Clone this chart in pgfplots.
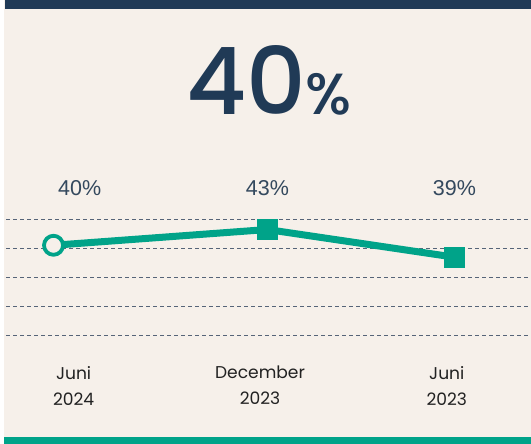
\documentclass[border=0pt]{standalone}
\usepackage{pgfplots}
\pgfplotsset{compat=1.18}
\usepackage{fontspec}
\setmainfont{Poppins}
\IfFontExistsTF{Poppins Medium}{\newfontfamily\bigfont{Poppins Medium}}{\newfontfamily\bigfont[FakeBold=1]{Poppins}}
\newfontfamily\labfont{Liberation Sans}
\newfontfamily\catfont{Poppins}
\definecolor{bgcream}{HTML}{F6F0EA}
\definecolor{navy}{HTML}{203A56}
\definecolor{tealg}{HTML}{00A389}
\definecolor{labc}{HTML}{34495E}
\definecolor{catc}{HTML}{222222}
\definecolor{gridc}{HTML}{566478}
\begin{document}
\begin{tikzpicture}[x=1bp,y=1bp]
\useasboundingbox (0,0) rectangle (531,444);
\fill[white] (0,0) rectangle (531,444);
\fill[bgcream] (4,0) rectangle (531,444);
\fill[navy] (5,434.5) rectangle (531,444);
\fill[tealg] (4,0) rectangle (531,7);
\begin{axis}[
  at={(6bp,0bp)}, anchor=south west,
  width=525bp, height=444bp, scale only axis,
  xmin=6, xmax=531, ymin=13.013, ymax=74.407,
  axis line style={draw=none}, tick style={draw=none},
  ytick={28,32,36,40,44}, yticklabel=\empty,
  ymajorgrids, grid style={gridc, line width=1bp, dash pattern=on 4bp off 3bp},
  xtick={73.6,260,446.8},
  xticklabels={{Juni\\2024},{December\\2023},{Juni\\2023}},
  xticklabel style={align=center, anchor=north, inner sep=0pt, yshift=78bp,
    font={\catfont\fontsize{17.1bp}{26bp}\selectfont}, text=catc},
  clip=false]
\addplot[tealg, line width=7bp, no marks] coordinates {(53.5,40.49) (267.3,42.67) (454.7,38.84)};
\addplot[tealg, only marks, mark=*, mark size=9.5bp, mark options={fill=bgcream, draw=tealg, line width=3.8bp}] coordinates {(53.5,40.49)};
\addplot[tealg, only marks, mark=square*, mark size=10bp, mark options={fill=tealg, draw=tealg, line width=0.5bp}] coordinates {(267.3,42.67) (454.7,38.84)};
\node[font={\labfont\fontsize{21.5bp}{24bp}\selectfont}, text=labc, anchor=base] at (axis cs:79.7,47.33) {40\%};
\node[font={\labfont\fontsize{21.5bp}{24bp}\selectfont}, text=labc, anchor=base] at (axis cs:267.5,47.33) {43\%};
\node[font={\labfont\fontsize{21.5bp}{24bp}\selectfont}, text=labc, anchor=base] at (axis cs:454.5,47.33) {39\%};
\node[anchor=base, text=navy, inner sep=0pt] at (axis cs:269,58.57) {{\bigfont\fontsize{93bp}{100bp}\selectfont 40}{\bigfont\fontsize{58bp}{70bp}\selectfont\%}};
\end{axis}
\end{tikzpicture}
\end{document}
